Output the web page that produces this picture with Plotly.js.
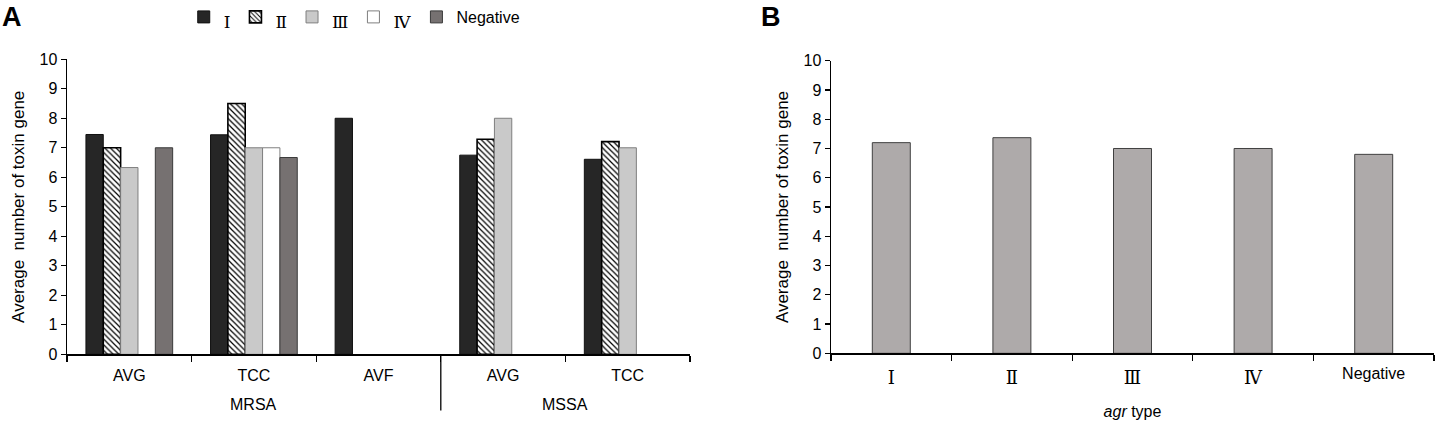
<!DOCTYPE html>
<html>
<head>
<meta charset="utf-8">
<script src="https://cdn.plot.ly/plotly-3.0.1.min.js"></script>
<style>html,body{margin:0;padding:0;background:#fff;}#chart{width:1440px;height:422px;}</style>
</head>
<body>
<div id="chart"></div>
<script>
// ---------- Panel A data ----------
const groupsA = ['MRSA', 'MRSA', 'MRSA', 'MSSA', 'MSSA'];
const sitesA = ['AVG', 'TCC', 'AVF', 'AVG', 'TCC'];
const seriesNames = ['Ⅰ', 'Ⅱ', 'Ⅲ', 'Ⅳ', 'Negative'];
const typeI = [7.45, 7.44, 8.0, 6.75, 6.61];
const typeII = [7.0, 8.5, null, 7.29, 7.21];
const typeIII = [6.33, 7.0, null, 8.0, 7.0];
const typeIV = [null, 7.0, null, null, null];
const typeNeg = [7.0, 6.67, null, null, null];

// ---------- Panel B data ----------
const agrTypes = ['Ⅰ', 'Ⅱ', 'Ⅲ', 'Ⅳ', 'Negative'];
const agrValues = [7.2, 7.37, 7.0, 7.0, 6.8];

const SANS = 'Liberation Sans, Arial, sans-serif';
const SERIF = 'DejaVu Serif, Liberation Serif, serif';
function styleName(n, sz) {
  return n === 'Negative' ? n :
    '<span style="font-family:' + SERIF + ';font-size:' + sz + 'px;baseline-shift:-5px">' + n + '</span>';
}

// unique category keys for panel A (group + site)
const keysA = groupsA.map((g, i) => g + ' ' + sitesA[i]);
const seriesA = [typeI, typeII, typeIII, typeIV, typeNeg];
const styles = [
  {color: '#262626', line: {color: '#111111', width: 1}},
  {color: '#ffffff', line: {color: '#000000', width: 1.6},
   pattern: {shape: '\\', fgcolor: '#000000', bgcolor: '#ffffff', size: 4, solidity: 0.3}},
  {color: '#c9c9c9', line: {color: '#7f7f7f', width: 1}},
  {color: '#ffffff', line: {color: '#7f7f7f', width: 1}},
  {color: '#767171', line: {color: '#3a3a3a', width: 1}}
];

const data = seriesA.map((vals, i) => ({
  type: 'bar', x: keysA, y: vals, name: styleName(seriesNames[i], 17),
  xaxis: 'x', yaxis: 'y', marker: styles[i], showlegend: true, hoverinfo: 'y'
}));

data.push({
  type: 'bar', x: agrTypes, y: agrValues, xaxis: 'x2', yaxis: 'y2',
  width: 0.315, showlegend: false,
  marker: {color: '#aeaaaa', line: {color: '#404040', width: 1}}
});

// group label annotations centred on each group's categories
const groupLabels = [];
groupsA.forEach((g, i) => {
  let lab = groupLabels.find(o => o.name === g);
  if (!lab) { lab = {name: g, idx: []}; groupLabels.push(lab); }
  lab.idx.push(i);
});

const yCommon = {
  range: [0, 10], dtick: 1, tick0: 0, ticks: 'outside', ticklen: 5, tickwidth: 1.3,
  tickcolor: '#000', showline: true, linecolor: '#000', linewidth: 1.5,
  showgrid: false, zeroline: false, automargin: false,
  tickfont: {family: SANS, size: 16, color: '#000'},
  title: {text: 'Average  number of toxin gene', font: {family: SANS, size: 17, color: '#000'}, standoff: 10}
};

const annotations = [
  {text: '<b>A</b>', xref: 'paper', yref: 'paper', x: 0, y: 1.005, xanchor: 'left', yanchor: 'top',
   showarrow: false, font: {family: SANS, size: 27, color: '#000'}},
  {text: '<b>B</b>', xref: 'paper', yref: 'paper', x: 759 / 1440, y: 1.005, xanchor: 'left', yanchor: 'top',
   showarrow: false, font: {family: SANS, size: 27, color: '#000'}}
];
groupLabels.forEach(o => {
  const c = (o.idx[0] + o.idx[o.idx.length - 1]) / 2;
  annotations.push({text: o.name, xref: 'x', yref: 'paper', x: c, y: 1 - 404 / 422,
    xanchor: 'center', yanchor: 'middle', showarrow: false,
    font: {family: SANS, size: 16, color: '#000'}});
});

const layout = {
  width: 1440, height: 422, autosize: false,
  margin: {l: 0, r: 0, t: 0, b: 0},
  paper_bgcolor: '#fff', plot_bgcolor: 'rgba(0,0,0,0)',
  barmode: 'group', bargap: 0.304, bargroupgap: 0,
  font: {family: SANS, color: '#000'},
  showlegend: true,
  legend: {orientation: 'h', x: 0.246, xanchor: 'center', y: 1.005, yanchor: 'top',
           font: {family: SANS, size: 16, color: '#000'}, itemwidth: 30,
           bgcolor: 'rgba(0,0,0,0)', traceorder: 'normal'},
  xaxis: {
    domain: [67 / 1440, 690 / 1440], anchor: 'y', type: 'category',
    tickmode: 'array', tickvals: keysA, ticktext: sitesA, tickson: 'boundaries',
    showline: true, linecolor: '#000', linewidth: 1.8,
    ticks: 'outside', ticklen: 6, tickwidth: 1.3, tickcolor: '#000',
    ticklabelstandoff: 6,
    showgrid: false, zeroline: false, automargin: false,
    tickfont: {family: SANS, size: 16, color: '#000'}
  },
  yaxis: Object.assign({}, yCommon, {domain: [0.1611, 0.8637], anchor: 'x'}),
  xaxis2: {
    domain: [831 / 1440, 1434 / 1440], anchor: 'y2', type: 'category',
    tickmode: 'array', tickvals: agrTypes, ticktext: agrTypes.map(n => styleName(n, 18)),
    tickson: 'boundaries', showline: true, linecolor: '#000', linewidth: 1.8,
    ticks: 'outside', ticklen: 6, tickwidth: 1.3, tickcolor: '#000',
    ticklabelstandoff: 5,
    showgrid: false, zeroline: false, automargin: false,
    tickfont: {family: SANS, size: 16, color: '#000'},
    title: {text: '<i>agr</i> type', font: {family: SANS, size: 16, color: '#000'}, standoff: 18}
  },
  yaxis2: Object.assign({}, yCommon, {domain: [0.1635, 0.8602], anchor: 'x2'}),
  shapes: [
    {type: 'line', xref: 'x domain', yref: 'y domain', x0: 0.6, x1: 0.6, y0: 0, y1: -0.19,
     line: {color: '#000', width: 1.3}}
  ],
  annotations: annotations
};

Plotly.newPlot('chart', data, layout, {displayModeBar: false, staticPlot: true});
</script>
</body>
</html>
